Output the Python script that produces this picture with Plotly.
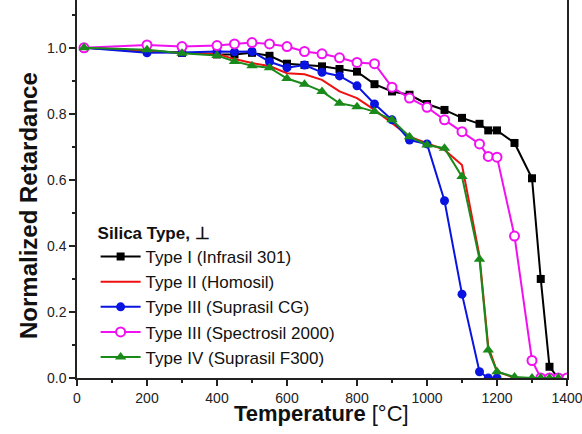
import plotly.graph_objects as go

# Type I (Infrasil 301)
t1_x = [20, 200, 300, 400, 450, 500, 550, 600, 650, 700, 750, 800, 850, 900, 950, 1000, 1050, 1100, 1150, 1175, 1200, 1250, 1300, 1325, 1350, 1375]
t1_y = [1.0, 0.99, 0.985, 0.98, 0.98, 0.985, 0.976, 0.952, 0.948, 0.944, 0.936, 0.928, 0.89, 0.868, 0.858, 0.83, 0.812, 0.788, 0.77, 0.75, 0.75, 0.712, 0.605, 0.30, 0.034, 0.0]

# Type II (Homosil)
t2_x = [20, 200, 300, 400, 450, 500, 550, 600, 650, 700, 750, 800, 850, 900, 950, 1000, 1050, 1100, 1150, 1175, 1200, 1250]
t2_y = [1.0, 0.99, 0.985, 0.982, 0.966, 0.954, 0.945, 0.923, 0.92, 0.903, 0.868, 0.848, 0.812, 0.772, 0.731, 0.711, 0.691, 0.645, 0.37, 0.095, 0.02, 0.0]

# Type III (Suprasil CG)
t3_x = [20, 200, 300, 400, 450, 500, 550, 600, 650, 700, 750, 800, 850, 900, 950, 1000, 1050, 1100, 1150, 1175, 1200]
t3_y = [1.0, 0.985, 0.986, 0.989, 0.988, 0.989, 0.958, 0.94, 0.948, 0.926, 0.915, 0.885, 0.83, 0.782, 0.721, 0.709, 0.537, 0.254, 0.019, 0.0, 0.0]

# Type III (Spectrosil 2000)
t4_x = [20, 200, 300, 400, 450, 500, 550, 600, 650, 700, 750, 800, 850, 900, 950, 1000, 1050, 1100, 1150, 1175, 1200, 1250, 1300, 1325, 1350, 1375, 1400]
t4_y = [1.0, 1.009, 1.004, 1.007, 1.012, 1.016, 1.012, 1.004, 0.989, 0.982, 0.97, 0.956, 0.952, 0.881, 0.848, 0.82, 0.782, 0.746, 0.709, 0.671, 0.669, 0.43, 0.053, 0.0, 0.0, 0.0, 0.0]

# Type IV (Suprasil F300)
t5_x = [20, 200, 300, 400, 450, 500, 550, 600, 650, 700, 750, 800, 850, 900, 950, 1000, 1050, 1100, 1150, 1175, 1200, 1250, 1300, 1325, 1350, 1375]
t5_y = [1.0, 0.994, 0.984, 0.977, 0.959, 0.946, 0.94, 0.907, 0.89, 0.868, 0.832, 0.822, 0.807, 0.782, 0.731, 0.706, 0.696, 0.61, 0.36, 0.085, 0.019, 0.003, 0.0, 0.0, 0.0, 0.0]

names = ["Type I (Infrasil 301)", "Type II (Homosil)", "Type III (Suprasil CG)",
         "Type III (Spectrosil 2000)", "Type IV (Suprasil F300)"]

x_ticks = [0, 200, 400, 600, 800, 1000, 1200, 1400]
y_ticks = [0.0, 0.2, 0.4, 0.6, 0.8, 1.0]

fig = go.Figure()
fig.add_trace(go.Scatter(x=t1_x, y=t1_y, name=names[0], mode="lines+markers",
                         line=dict(color="#000000", width=2),
                         marker=dict(symbol="square", size=8, color="#000000")))
fig.add_trace(go.Scatter(x=t2_x, y=t2_y, name=names[1], mode="lines",
                         line=dict(color="#ee1111", width=2)))
fig.add_trace(go.Scatter(x=t3_x, y=t3_y, name=names[2], mode="lines+markers",
                         line=dict(color="#0a14e0", width=2),
                         marker=dict(symbol="circle", size=9, color="#0a14e0")))
fig.add_trace(go.Scatter(x=t4_x, y=t4_y, name=names[3], mode="lines+markers",
                         line=dict(color="#f010f0", width=2),
                         marker=dict(symbol="circle", size=9, color="white",
                                     line=dict(color="#f010f0", width=2))))
fig.add_trace(go.Scatter(x=t5_x, y=t5_y, name=names[4], mode="lines+markers",
                         line=dict(color="#1a8a1a", width=2),
                         marker=dict(symbol="triangle-up", size=10, color="#1a8a1a")))

font_family = "Liberation Sans, Arial, sans-serif"
axis_font = dict(family=font_family, size=14, color="#222222")

fig.update_layout(
    width=582, height=434,
    margin=dict(l=77, r=15, t=0, b=56),
    paper_bgcolor="white", plot_bgcolor="white",
    font=dict(family=font_family, color="#111111"),
    showlegend=True,
    legend=dict(
        x=0.038, y=0.426, xanchor="left", yanchor="top",
        bgcolor="rgba(0,0,0,0)",
        font=dict(size=17, color="#111111"),
        title=dict(text="<b>Silica Type, ⊥</b>", font=dict(size=17)),
        tracegroupgap=0, itemwidth=40,
    ),
    xaxis=dict(
        range=[0, 1400], tickvals=x_ticks, ticktext=[str(v) for v in x_ticks],
        showgrid=False, zeroline=False, automargin=False, ticklabeloverflow="allow",
        showline=True, linecolor="#222222", linewidth=1.5, mirror=False,
        ticks="outside", ticklen=6, tickcolor="#222222", tickwidth=1.5,
        minor=dict(dtick=100, ticks="outside", ticklen=3, tickcolor="#222222", tickwidth=1.5),
        tickfont=axis_font,
    ),
    yaxis=dict(
        range=[0, 1.145], tickvals=y_ticks, ticktext=["%.1f" % v for v in y_ticks],
        showgrid=False, zeroline=False, automargin=False,
        showline=True, linecolor="#222222", linewidth=1.5, mirror=True,
        ticks="outside", ticklen=6, tickcolor="#222222", tickwidth=1.5,
        minor=dict(dtick=0.1, ticks="outside", ticklen=3, tickcolor="#222222", tickwidth=1.5),
        tickfont=axis_font,
    ),
    annotations=[
        dict(text="<b>Temperature</b> [°C]", xref="paper", yref="paper",
             x=0.498, y=-0.0926, xanchor="center", yanchor="middle", showarrow=False,
             font=dict(family=font_family, size=22, color="#111111")),
        dict(text="<b>Normalized Retardance</b>", xref="paper", yref="paper",
             x=-0.1, y=0.455, xanchor="center", yanchor="middle", showarrow=False,
             textangle=-90, font=dict(family=font_family, size=24, color="#111111")),
    ],
)

fig.write_html("out.html", config={"displayModeBar": False},
               post_script="document.body.style.margin='0';document.body.style.overflow='hidden';")
